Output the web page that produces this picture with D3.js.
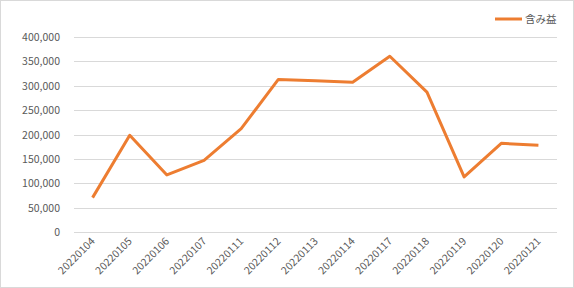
<!DOCTYPE html>
<html>
<head>
<meta charset="utf-8">
<script src="https://cdn.jsdelivr.net/npm/d3@7"></script>
<style>
body{margin:0;background:#fff;}
svg{display:block;font-family:"Noto Sans CJK JP","Noto Sans",sans-serif;}
</style>
</head>
<body>
<svg></svg>
<script>
var w=574, h=288;
var dates=["20220104","20220105","20220106","20220107","20220111","20220112","20220113","20220114","20220117","20220118","20220119","20220120","20220121"];
var gains=[70500,198500,117000,147000,212000,313000,310500,307000,360500,287000,113000,182000,178000];
var yTicks=[0,50000,100000,150000,200000,250000,300000,350000,400000];
var seriesName="含み益";

var plotLeft=74, plotRight=557, plotTop=37, plotBottom=232;

function draw(){
  var svg=d3.select("svg").attr("width",w).attr("height",h);

  svg.append("rect").attr("x",0.5).attr("y",0.5).attr("width",w-1).attr("height",h-1)
    .attr("fill","#fff").attr("stroke","#d9d9d9");

  var x=d3.scaleBand().domain(dates).range([plotLeft,plotRight]);
  var y=d3.scaleLinear().domain([0,400000]).range([plotBottom,plotTop]);

  // grid
  svg.append("g").selectAll("line").data(yTicks).enter().append("line")
    .attr("x1",plotLeft).attr("x2",plotRight)
    .attr("y1",function(d){return Math.round(y(d))+0.5;})
    .attr("y2",function(d){return Math.round(y(d))+0.5;})
    .attr("stroke","#d9d9d9").attr("stroke-width",1);

  var fmt=d3.format(",");
  svg.append("g").selectAll("text").data(yTicks).enter().append("text")
    .attr("x",60).attr("y",function(d){return y(d)+4;})
    .attr("text-anchor","end")
    .attr("font-size","10.5px").attr("fill","#595959")
    .text(function(d){return fmt(d);});

  svg.append("g").selectAll("text").data(dates).enter().append("text")
    .attr("transform",function(d){
      var cx=x(d)+x.bandwidth()/2+3;
      return "translate("+cx+",242) rotate(-45)";})
    .attr("text-anchor","end")
    .attr("font-size","10.5px").attr("fill","#595959")
    .text(function(d){return d;});

  var line=d3.line()
    .x(function(d,i){return x(dates[i])+x.bandwidth()/2;})
    .y(function(d){return y(d);});

  svg.append("path").datum(gains)
    .attr("d",line)
    .attr("fill","none").attr("stroke","#ed7d31")
    .attr("stroke-width",3).attr("stroke-linejoin","round");

  // legend
  var lg=svg.append("g");
  lg.append("line").attr("x1",495).attr("x2",522).attr("y1",19).attr("y2",19)
    .attr("stroke","#ed7d31").attr("stroke-width",3);
  lg.append("text").attr("x",525).attr("y",23)
    .attr("font-size","10.5px").attr("fill","#595959").text(seriesName);
}

draw();
</script>
</body>
</html>
